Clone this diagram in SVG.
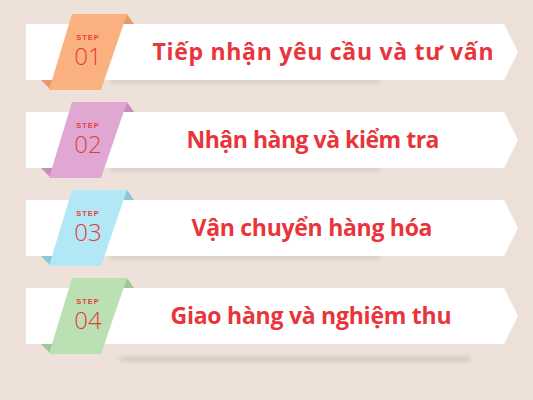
<svg xmlns="http://www.w3.org/2000/svg" width="533" height="400" viewBox="0 0 533 400">
<defs>
<filter id="blur" x="-10%" y="-200%" width="120%" height="500%"><feGaussianBlur stdDeviation="2"/></filter>
<style>
.banner{fill:#ffffff}
.shadow{fill:#b9aaa2;opacity:0.55}
.step{font-family:"Liberation Sans",Arial,sans-serif;font-weight:bold;font-size:7.5px;letter-spacing:1px;fill:#e8403f;text-anchor:middle}
.num{font-family:"Open Sans","Liberation Sans",sans-serif;font-weight:300;font-size:24px;fill:#e53a3a;text-anchor:middle}
.title{font-family:"Open Sans","Liberation Sans",Arial,sans-serif;font-weight:bold;font-size:23px;fill:#e8343a;text-anchor:middle}
</style>
</defs>
<rect width="533" height="400" fill="#ede1d9"/>

<g id="step1">
<rect class="shadow" x="110" y="80" width="270" height="3" filter="url(#blur)"/>
<path class="banner" d="M26,24 H504 L518,52 L504,80 H26 Z"/>
<path d="M127,14 L123,24 L134,24 Z" fill="#e39a6e"/>
<path d="M41,80 L54,80 L51,90 Z" fill="#e39a6e"/>
<path d="M72,14 H127 L101,90 H49 Z" fill="#fbb17f"/>
<text class="step" x="88" y="40">STEP</text>
<text class="num" x="88" y="65">01</text>
<text class="title" x="323" y="60" textLength="341" lengthAdjust="spacing">Tiếp nhận yêu cầu và tư vấn</text>
</g>

<g id="step2">
<rect class="shadow" x="110" y="168" width="270" height="3" filter="url(#blur)"/>
<path class="banner" d="M26,112 H504 L518,140 L504,168 H26 Z"/>
<path d="M127,102 L123,112 L134,112 Z" fill="#c98dbd"/>
<path d="M41,168 L54,168 L51,178 Z" fill="#c98dbd"/>
<path d="M72,102 H127 L101,178 H49 Z" fill="#dfa7d2"/>
<text class="step" x="88" y="128">STEP</text>
<text class="num" x="88" y="153">02</text>
<text class="title" x="313" y="148" textLength="253" lengthAdjust="spacing">Nhận hàng và kiểm tra</text>
</g>

<g id="step3">
<rect class="shadow" x="110" y="256" width="270" height="3" filter="url(#blur)"/>
<path class="banner" d="M26,200 H504 L518,228 L504,256 H26 Z"/>
<path d="M127,190 L123,200 L134,200 Z" fill="#86c8d6"/>
<path d="M41,256 L54,256 L51,266 Z" fill="#86c8d6"/>
<path d="M72,190 H127 L101,266 H49 Z" fill="#b2e7f5"/>
<text class="step" x="88" y="216">STEP</text>
<text class="num" x="88" y="241">03</text>
<text class="title" x="312" y="236" textLength="241" lengthAdjust="spacing">Vận chuyển hàng hóa</text>
</g>

<g id="step4">
<rect class="shadow" x="120" y="357" width="350" height="4" filter="url(#blur)"/>
<path class="banner" d="M26,288 H504 L518,316 L504,344 H26 Z"/>
<path d="M127,278 L123,288 L134,288 Z" fill="#9cc897"/>
<path d="M41,344 L54,344 L51,354 Z" fill="#9cc897"/>
<path d="M72,278 H127 L101,354 H49 Z" fill="#bae0b4"/>
<text class="step" x="88" y="304">STEP</text>
<text class="num" x="88" y="329">04</text>
<text class="title" x="311" y="324" textLength="281" lengthAdjust="spacing">Giao hàng và nghiệm thu</text>
</g>
</svg>
